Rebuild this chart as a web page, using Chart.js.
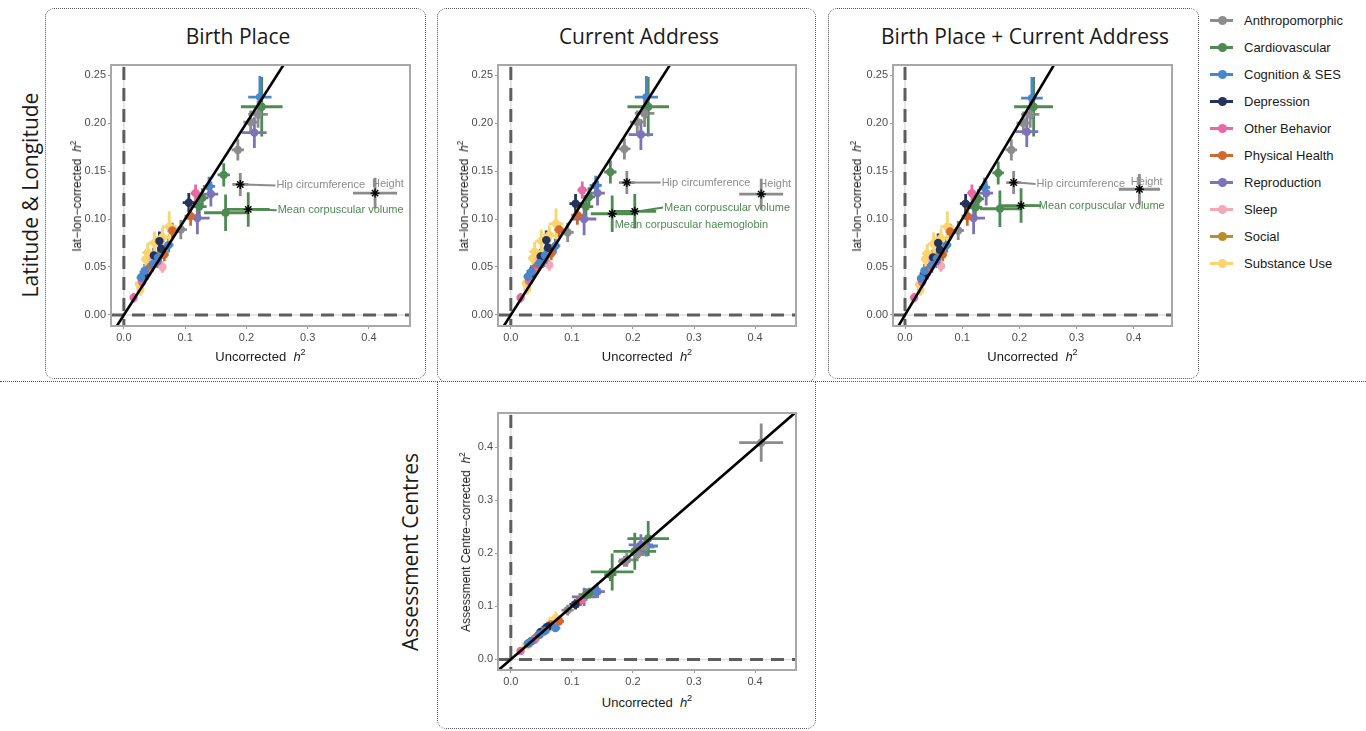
<!DOCTYPE html>
<html>
<head>
<meta charset="utf-8">
<script src="https://cdn.jsdelivr.net/npm/chart.js@4.4.1/dist/chart.umd.min.js"></script>
<style>
body { margin:0; width:1366px; height:731px; position:relative; overflow:hidden; background:#fff;
       font-family:"Liberation Sans", Arial, sans-serif; color:#1a1a1a; }
.box { position:absolute; border:1px dotted #555; border-radius:9px; box-sizing:border-box; }
.hline { position:absolute; border-top:1px dotted #555; height:0; }
canvas { position:absolute; }
.title { position:absolute; font-family:"Open Sans", sans-serif; font-size:21px; white-space:nowrap;
         transform:translate(-50%,-50%); }
.rowlab { position:absolute; font-family:"Open Sans", sans-serif; font-size:21px; white-space:nowrap;
          transform:translate(-50%,-50%) rotate(-90deg); }
.xt { position:absolute; font-size:13px; white-space:nowrap; transform:translate(-50%,-50%); }
.yt { position:absolute; font-size:12px; white-space:nowrap; transform:translate(-50%,-50%) rotate(-90deg); }
sup { font-size:0.7em; vertical-align:0.6em; line-height:0; }
.leg { position:absolute; left:1210px; font-size:13px; white-space:nowrap; height:20px; line-height:20px; }
.leg .ln { position:absolute; left:0; top:8px; width:23px; height:3px; }
.leg .dt { position:absolute; left:8px; top:5px; width:9px; height:9px; border-radius:50%; }
.leg span.t { position:absolute; left:34px; top:0; }
</style>
</head>
<body>
<script>
// categories and colours
const categories = ['Anthropomorphic', 'Cardiovascular', 'Cognition & SES', 'Depression', 'Other Behavior',
                    'Physical Health', 'Reproduction', 'Sleep', 'Social', 'Substance Use'];
const palette = ['#8c8c8c', '#4f8a52', '#4a87c9', '#23335c', '#e76aa5',
                 '#d0692f', '#7d73b8', '#f3a8b8', '#b98f2e', '#fbd46d'];

// one entry per trait (index into categories)
const traitCategory = [0,0,0,0,0,0, 1,1,1,1,1,1, 2,2,2,2,2,2,2, 3,3,3,3,3, 4,4,4,4, 5,5,5,5, 6,6,6,6,6, 7,7,7, 8,8, 9,9,9,9,9,9,9];
// uncorrected h2 and its error half-width
const h2Uncorrected = [0.410,0.190,0.219,0.207,0.186,0.093, 0.225,0.203,0.166,0.163,0.123,0.128,
  0.222,0.139,0.073,0.047,0.028,0.056,0.034, 0.106,0.058,0.061,0.033,0.049, 0.117,0.016,0.039,0.030,
  0.109,0.079,0.066,0.045, 0.213,0.142,0.120,0.055,0.040, 0.063,0.035,0.047, 0.058,0.052,
  0.074,0.050,0.039,0.036,0.025,0.027,0.063];
const seUncorrected = [0.036,0.013,0.016,0.012,0.010,0.010, 0.034,0.035,0.035,0.010,0.012,0.010,
  0.019,0.010,0.008,0.008,0.007,0.007,0.006, 0.010,0.008,0.007,0.006,0.007, 0.008,0.005,0.006,0.006,
  0.010,0.008,0.007,0.006, 0.020,0.012,0.020,0.007,0.006, 0.006,0.006,0.006, 0.008,0.007,
  0.012,0.010,0.009,0.008,0.007,0.006,0.010];
// lat-lon corrected h2: birth place, current address, both
const h2BirthPlace = [0.127,0.136,0.209,0.201,0.172,0.089, 0.217,0.110,0.1065,0.146,0.113,0.122,
  0.227,0.134,0.073,0.053,0.039,0.060,0.046, 0.117,0.077,0.069,0.041,0.062, 0.127,0.018,0.044,0.034,
  0.103,0.088,0.063,0.050, 0.190,0.126,0.101,0.056,0.048, 0.050,0.042,0.059, 0.062,0.057,
  0.092,0.075,0.065,0.058,0.032,0.026,0.081];
const h2CurrentAddress = [0.126,0.138,0.210,0.201,0.173,0.086, 0.217,0.108,0.1055,0.149,0.113,0.123,
  0.227,0.135,0.072,0.054,0.040,0.062,0.045, 0.116,0.078,0.070,0.043,0.061, 0.130,0.018,0.045,0.035,
  0.104,0.089,0.064,0.051, 0.188,0.127,0.100,0.057,0.049, 0.052,0.043,0.058, 0.062,0.056,
  0.095,0.077,0.066,0.059,0.033,0.027,0.083];
const h2BothPlaces = [0.131,0.138,0.209,0.200,0.172,0.088, 0.217,0.114,0.1107,0.148,0.112,0.121,
  0.226,0.133,0.073,0.052,0.038,0.059,0.046, 0.116,0.075,0.068,0.041,0.060, 0.127,0.018,0.044,0.034,
  0.103,0.087,0.063,0.050, 0.191,0.127,0.101,0.056,0.047, 0.051,0.042,0.058, 0.061,0.056,
  0.092,0.074,0.064,0.058,0.032,0.026,0.080];
const seLatLon = [0.016,0.012,0.014,0.012,0.011,0.010, 0.031,0.018,0.019,0.012,0.012,0.010,
  0.022,0.010,0.008,0.008,0.007,0.008,0.007, 0.010,0.010,0.008,0.007,0.008, 0.009,0.005,0.007,0.006,
  0.010,0.008,0.007,0.006, 0.016,0.013,0.017,0.007,0.006, 0.006,0.006,0.006, 0.008,0.007,
  0.016,0.012,0.010,0.008,0.008,0.006,0.010];
// assessment centre corrected h2
const h2Centre = [0.409,0.188,0.212,0.198,0.185,0.093, 0.228,0.204,0.165,0.160,0.122,0.125,
  0.214,0.128,0.059,0.047,0.030,0.054,0.035, 0.104,0.060,0.062,0.034,0.052, 0.113,0.016,0.037,0.030,
  0.107,0.072,0.066,0.046, 0.216,0.128,0.118,0.054,0.040, 0.060,0.035,0.046, 0.056,0.051,
  0.078,0.050,0.038,0.036,0.027,0.026,0.066];
const seCentre = [0.036,0.013,0.016,0.013,0.010,0.010, 0.033,0.035,0.035,0.012,0.012,0.010,
  0.020,0.010,0.007,0.008,0.007,0.007,0.006, 0.010,0.008,0.007,0.006,0.007, 0.008,0.005,0.006,0.006,
  0.010,0.008,0.007,0.006, 0.020,0.012,0.017,0.007,0.006, 0.006,0.006,0.006, 0.008,0.007,
  0.012,0.010,0.009,0.008,0.007,0.006,0.010];

// tick labels
const xTicks = [0, 0.1, 0.2, 0.3, 0.4];
const latLonTicks = [0, 0.05, 0.10, 0.15, 0.20, 0.25];
const centreTicks = [0, 0.1, 0.2, 0.3, 0.4];

const panels = [
  { title: 'Birth Place', titleX: 238, ys: h2BirthPlace, ses: seLatLon, yTicks: latLonTicks, yDigits: 2,
    yRange: [-0.0115, 0.2605], yLabel: 'lat\u2212lon\u2212corrected', area: { l: 111, t: 65, r: 410, b: 326 },
    yTitleX: 77, xTitleY: 356, starred: [0, 1, 7],
    notes: [ { i: 1, text: 'Hip circumference', x: 0.249, y: 0.135, line: true },
             { i: 0, text: 'Height', x: 0.405, y: 0.137, line: false },
             { i: 7, text: 'Mean corpuscular volume', x: 0.251, y: 0.109, line: true } ] },
  { title: 'Current Address', titleX: 639, ys: h2CurrentAddress, ses: seLatLon, yTicks: latLonTicks, yDigits: 2,
    yRange: [-0.0115, 0.2605], yLabel: 'lat\u2212lon\u2212corrected', area: { l: 498, t: 65, r: 796, b: 326 },
    yTitleX: 464, xTitleY: 356, starred: [0, 1, 7, 8],
    notes: [ { i: 1, text: 'Hip circumference', x: 0.247, y: 0.138, line: true },
             { i: 0, text: 'Height', x: 0.407, y: 0.136, line: false },
             { i: 7, text: 'Mean corpuscular volume', x: 0.251, y: 0.112, line: true },
             { i: 8, text: 'Mean corpuscular haemoglobin', x: 0.170, y: 0.094, line: false } ] },
  { title: 'Birth Place + Current Address', titleX: 1025, ys: h2BothPlaces, ses: seLatLon, yTicks: latLonTicks, yDigits: 2,
    yRange: [-0.0115, 0.2605], yLabel: 'lat\u2212lon\u2212corrected', area: { l: 893, t: 65, r: 1172, b: 326 },
    yTitleX: 857, xTitleY: 356, starred: [0, 1, 7],
    notes: [ { i: 1, text: 'Hip circumference', x: 0.230, y: 0.1366, line: true },
             { i: 0, text: 'Height', x: 0.395, y: 0.139, line: false },
             { i: 7, text: 'Mean corpuscular volume', x: 0.234, y: 0.114, line: true } ] },
  { title: null, ys: h2Centre, ses: seCentre, yTicks: centreTicks, yDigits: 1,
    yRange: [-0.02, 0.465], yLabel: 'Assessment Centre\u2212corrected', area: { l: 498, t: 413, r: 796, b: 670 },
    yTitleX: 466, xTitleY: 702, starred: [], notes: [] }
];

Chart.defaults.font.family = '"Liberation Sans", Arial, sans-serif';
Chart.defaults.color = '#4d4d4d';

function addEl(cls, html, css) {
  const d = document.createElement('div');
  d.className = cls;
  d.innerHTML = html;
  Object.assign(d.style, css);
  document.body.appendChild(d);
  return d;
}

// dotted frames
addEl('box', '', { left: '45px', top: '8px', width: '381px', height: '371px' });
addEl('box', '', { left: '437px', top: '8px', width: '379px', height: '374px' });
addEl('box', '', { left: '828px', top: '8px', width: '371px', height: '371px' });
addEl('box', '', { left: '437px', top: '381px', width: '379px', height: '348px', borderTopLeftRadius: '0', borderTopRightRadius: '0' });
addEl('hline', '', { left: '0px', top: '381px', width: '1366px' });

addEl('rowlab', 'Latitude &amp; Longitude', { left: '30px', top: '195px' });
addEl('rowlab', 'Assessment Centres', { left: '410px', top: '552px' });

// legend
categories.forEach((c, k) => {
  addEl('leg', '<div class="ln" style="background:' + palette[k] + '"></div><div class="dt" style="background:' +
        palette[k] + '"></div><span class="t">' + c.replace('&', '&amp;') + '</span>', { top: (11 + k * 27) + 'px' });
});

const panelPlugin = {
  id: 'panelExtras',
  beforeDatasetsDraw(chart) {
    const { ctx, chartArea: a, scales: { x, y } } = chart;
    ctx.save();
    ctx.beginPath();
    ctx.rect(a.left, a.top, a.right - a.left, a.bottom - a.top);
    ctx.clip();
    const x0 = x.getPixelForValue(0), y0 = y.getPixelForValue(0);
    ctx.strokeStyle = '#dedede';
    ctx.lineWidth = 1.5;
    ctx.beginPath();
    ctx.moveTo(x0, a.top); ctx.lineTo(x0, a.bottom);
    ctx.moveTo(a.left, y0); ctx.lineTo(a.right, y0);
    ctx.stroke();
    ctx.strokeStyle = '#5e5e5e';
    ctx.lineWidth = 3;
    ctx.setLineDash([13, 8]);
    ctx.beginPath();
    ctx.moveTo(x0, a.top + 2); ctx.lineTo(x0, a.bottom);
    ctx.moveTo(a.left, y0); ctx.lineTo(a.right, y0);
    ctx.stroke();
    ctx.setLineDash([]);
    // error bars
    ctx.lineWidth = 2.8;
    chart.data.datasets.forEach(ds => {
      if (!ds.bars) return;
      ds.data.forEach(p => {
        ctx.strokeStyle = palette[p.c];
        const px = x.getPixelForValue(p.x), py = y.getPixelForValue(p.y);
        ctx.beginPath();
        ctx.moveTo(x.getPixelForValue(p.x - p.xe), py);
        ctx.lineTo(x.getPixelForValue(p.x + p.xe), py);
        ctx.moveTo(px, y.getPixelForValue(p.y - p.ye));
        ctx.lineTo(px, y.getPixelForValue(p.y + p.ye));
        ctx.stroke();
      });
    });
    ctx.restore();
  },
  afterDatasetsDraw(chart) {
    const { ctx, chartArea: a, scales: { x, y } } = chart;
    const notes = chart.options.plugins.panelExtras.notes;
    const ys = chart.options.plugins.panelExtras.ys;
    ctx.save();
    ctx.font = '11px "Liberation Sans", Arial, sans-serif';
    ctx.textBaseline = 'middle';
    ctx.textAlign = 'left';
    notes.forEach(n => {
      const col = palette[traitCategory[n.i]];
      if (n.line) {
        ctx.strokeStyle = col;
        ctx.lineWidth = 2;
        ctx.beginPath();
        ctx.moveTo(x.getPixelForValue(h2Uncorrected[n.i]) + 4, y.getPixelForValue(ys[n.i]));
        ctx.lineTo(x.getPixelForValue(n.x) - 1, y.getPixelForValue(n.y));
        ctx.stroke();
      }
      ctx.fillStyle = col;
      ctx.fillText(n.text, x.getPixelForValue(n.x), y.getPixelForValue(n.y));
    });
    ctx.strokeStyle = '#a8a8a8';
    ctx.lineWidth = 2;
    ctx.strokeRect(a.left, a.top, a.right - a.left, a.bottom - a.top);
    ctx.restore();
  }
};

panels.forEach(p => {
  const A = p.area;
  const padL = 70, padT = 10, padR = 15, padB = 22;
  const cv = document.createElement('canvas');
  cv.width = (A.r - A.l) + padL + padR;
  cv.height = (A.b - A.t) + padT + padB;
  cv.style.left = (A.l - padL) + 'px';
  cv.style.top = (A.t - padT) + 'px';
  document.body.appendChild(cv);

  const datasets = categories.map((c, k) => ({
    type: 'scatter',
    bars: true,
    data: traitCategory.map((cat, i) => ({ i, c: cat })).filter(d => d.c === k)
      .map(d => ({ x: h2Uncorrected[d.i], y: p.ys[d.i], xe: seUncorrected[d.i], ye: p.ses[d.i], c: k,
                   star: p.starred.includes(d.i) })),
    backgroundColor: palette[k],
    borderWidth: 0,
    pointRadius: ctx => (ctx.raw && ctx.raw.star ? 0 : 4.2),
    order: 0
  }));
  datasets.push({
    type: 'scatter',
    data: p.starred.map(i => ({ x: h2Uncorrected[i], y: p.ys[i] })),
    pointStyle: 'star',
    pointRadius: 4.5,
    borderColor: '#000',
    borderWidth: 1.4,
    order: -2
  });
  datasets.push({
    type: 'line',
    data: [{ x: -0.1, y: -0.1 }, { x: 0.6, y: 0.6 }],
    borderColor: '#000',
    borderWidth: 2.6,
    pointRadius: 0,
    order: -1
  });

  new Chart(cv, {
    type: 'scatter',
    data: { datasets },
    options: {
      responsive: false,
      devicePixelRatio: 1,
      animation: false,
      layout: { padding: { left: 0, top: padT, right: padR, bottom: 0 } },
      plugins: { legend: { display: false }, tooltip: { enabled: false },
                 panelExtras: { notes: p.notes, ys: p.ys } },
      scales: {
        x: {
          type: 'linear', min: -0.021, max: 0.467,
          afterBuildTicks: s => { s.ticks = xTicks.map(v => ({ value: v })); },
          afterFit: s => { s.height = padB; },
          ticks: { callback: v => v.toFixed(1), font: { size: 11 }, padding: 2, maxRotation: 0 },
          grid: { drawOnChartArea: false, drawTicks: true, tickLength: 3, color: '#9a9a9a' },
          border: { display: false }
        },
        y: {
          type: 'linear', min: p.yRange[0], max: p.yRange[1],
          afterBuildTicks: s => { s.ticks = p.yTicks.map(v => ({ value: v })); },
          afterFit: s => { s.width = padL; },
          ticks: { callback: v => v.toFixed(p.yDigits), font: { size: 11 }, padding: 2 },
          grid: { drawOnChartArea: false, drawTicks: true, tickLength: 3, color: '#9a9a9a' },
          border: { display: false }
        }
      }
    },
    plugins: [panelPlugin]
  });

  if (p.title) addEl('title', p.title, { left: p.titleX + 'px', top: '36px' });
  addEl('xt', 'Uncorrected&nbsp;&nbsp;<i>h</i><sup>2</sup>', { left: ((A.l + A.r) / 2) + 'px', top: p.xTitleY + 'px' });
  addEl('yt', p.yLabel + '&nbsp;&nbsp;<i>h</i><sup>2</sup>', { left: p.yTitleX + 'px', top: ((A.t + A.b) / 2) + 'px' });
});
</script>
</body>
</html>
